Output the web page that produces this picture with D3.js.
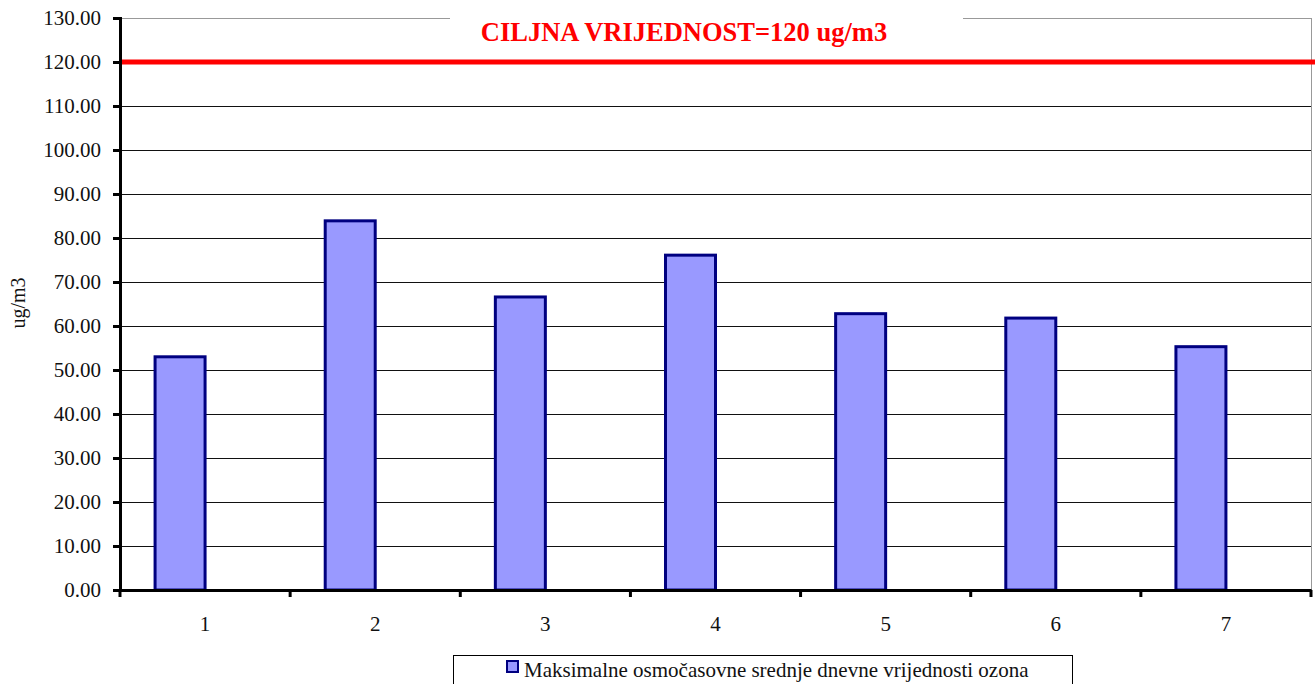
<!DOCTYPE html>
<html lang="hr">
<head>
<meta charset="UTF-8" />
<title>Ozon - maksimalne osmočasovne vrijednosti</title>
<script src="https://d3js.org/d3.v7.min.js"></script>
<style>
  body { margin: 0; background: #fff; }
  svg text { font-family: "Liberation Serif", "DejaVu Serif", serif; }
</style>
</head>
<body>
<svg id="chart" width="1315" height="684"></svg>
<script>
// podaci
const categories = ['1', '2', '3', '4', '5', '6', '7'];
const values = [53.0, 83.9, 66.6, 76.1, 62.8, 61.8, 55.3];
const yTicks = [0, 10, 20, 30, 40, 50, 60, 70, 80, 90, 100, 110, 120, 130];
const targetValue = 120;
const targetLabel = 'CILJNA VRIJEDNOST=120 ug/m3';
const seriesName = 'Maksimalne osmočasovne srednje dnevne vrijednosti ozona';
const yTitle = 'ug/m3';

const svg = d3.select('#chart');
const plotLeft = 120, plotRight = 1311, plotTop = 18, plotBottom = 590;

const x = d3.scaleBand().domain(categories).range([plotLeft, plotRight]);
const y = d3.scaleLinear().domain([0, 130]).range([plotBottom, plotTop]);

// mreža
svg.append('g').selectAll('line').data(yTicks.filter(d => d > 0 && d < 130)).join('line')
  .attr('x1', plotLeft).attr('x2', plotRight)
  .attr('y1', d => y(d) + 0.5).attr('y2', d => y(d) + 0.5)
  .attr('stroke', '#111').attr('stroke-width', 1)
  .attr('shape-rendering', 'crispEdges');

// okvir (gore i desno)
svg.append('path')
  .attr('d', `M${plotLeft},${y(130) + 0.5}H${plotRight + 0.5}V${plotBottom}`)
  .attr('fill', 'none').attr('stroke', '#999').attr('stroke-width', 1)
  .attr('shape-rendering', 'crispEdges');

// stupci - desni rub na sredini kategorije
const bw = 50;
svg.append('g').selectAll('rect').data(values).join('rect')
  .attr('x', (d, i) => x(categories[i]) + x.bandwidth() / 2 - bw)
  .attr('y', d => y(d))
  .attr('width', bw)
  .attr('height', d => y(0) - y(d))
  .attr('fill', '#9999ff')
  .attr('stroke', '#000080')
  .attr('stroke-width', 3);

// ciljna vrijednost
svg.append('line')
  .attr('x1', plotLeft).attr('x2', 1315)
  .attr('y1', y(targetValue)).attr('y2', y(targetValue))
  .attr('stroke', '#ff0000').attr('stroke-width', 5);

// naslov ciljne vrijednosti
svg.append('rect').attr('x', 450).attr('y', 10).attr('width', 513).attr('height', 40).attr('fill', '#fff');
svg.append('text')
  .attr('x', 684).attr('y', 41)
  .attr('text-anchor', 'middle')
  .attr('fill', '#ff0000').attr('font-weight', 'bold').attr('font-size', 26.5)
  .text(targetLabel);

// y os
const yAxis = svg.append('g').attr('transform', `translate(${plotLeft},0)`)
  .call(d3.axisLeft(y).tickValues(yTicks).tickFormat(d3.format('.2f')).tickSize(7).tickPadding(12));
yAxis.attr('font-family', null);
yAxis.select('.domain').attr('stroke', '#000').attr('stroke-width', 3);
yAxis.selectAll('.tick line').attr('stroke', '#000').attr('stroke-width', 3);
yAxis.selectAll('text').attr('font-size', 21).attr('fill', '#111');

// x os
const xAxis = svg.append('g').attr('transform', `translate(0,${plotBottom})`)
  .call(d3.axisBottom(x).tickSize(0).tickPadding(26));
xAxis.attr('font-family', null);
xAxis.select('.domain').attr('stroke', '#000').attr('stroke-width', 3);
xAxis.selectAll('text').attr('font-size', 21).attr('fill', '#111');
svg.append('g').selectAll('line').data(d3.range(categories.length + 1)).join('line')
  .attr('x1', i => plotLeft + i * x.bandwidth()).attr('x2', i => plotLeft + i * x.bandwidth())
  .attr('y1', plotBottom).attr('y2', plotBottom + 7)
  .attr('stroke', '#000').attr('stroke-width', 3);

// naslov y osi
svg.append('text')
  .attr('transform', 'translate(25,303) rotate(-90)')
  .attr('text-anchor', 'middle').attr('font-size', 20).attr('fill', '#111')
  .text(yTitle);

// legenda
svg.append('rect').attr('x', 453.5).attr('y', 655.5).attr('width', 619).attr('height', 40)
  .attr('fill', '#fff').attr('stroke', '#000').attr('stroke-width', 1);
svg.append('rect').attr('x', 507).attr('y', 661).attr('width', 11).attr('height', 11)
  .attr('fill', '#9999ff').attr('stroke', '#000080').attr('stroke-width', 2);
svg.append('text').attr('x', 524).attr('y', 677).attr('font-size', 21).attr('fill', '#111')
  .text(seriesName);
</script>
</body>
</html>
